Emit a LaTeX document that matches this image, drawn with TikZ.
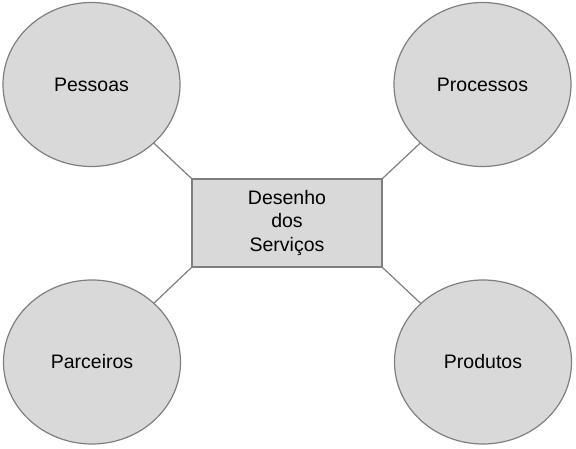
\documentclass[tikz,border=0pt]{standalone}
\usepackage{fontspec}
\setmainfont{Liberation Sans}
\usetikzlibrary{shapes.geometric}
\definecolor{fillgray}{HTML}{D9D9D9}
\definecolor{edgegray}{HTML}{7F7F7F}
\begin{document}
\begin{tikzpicture}[x=1pt,y=-1pt,
  bubble/.style={ellipse, draw=edgegray, fill=fillgray, line width=1.2pt,
    minimum width=177pt, minimum height=164pt, inner sep=0pt,
    font=\fontsize{19.5}{23.7}\selectfont},
  centerbox/.style={rectangle, draw=edgegray, fill=fillgray, line width=1.2pt,
    minimum width=190pt, minimum height=88pt, inner sep=0pt, align=center,
    font=\fontsize{19.5}{23.7}\selectfont},
  link/.style={draw=edgegray, line width=1.2pt}]
\useasboundingbox (0,0) rectangle (576,449);
\node[centerbox] (c) at (287,223) {Desenho\\dos\\Serviços};
\node[bubble] (pe) at (91.5,84.5) {Pessoas};
\node[bubble] (pr) at (482.5,84.5) {Processos};
\node[bubble] (pa) at (92,362) {Parceiros};
\node[bubble] (po) at (483,362) {Produtos};
\draw[link] (c.north west) -- (pe);
\draw[link] (c.north east) -- (pr);
\draw[link] (c.south west) -- (pa);
\draw[link] (c.south east) -- (po);
\end{tikzpicture}
\end{document}
